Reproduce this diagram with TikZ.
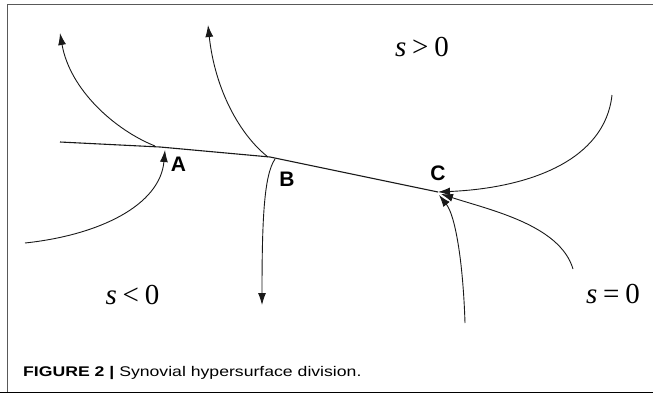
\documentclass[tikz,border=0pt]{standalone}
\usepackage{fontspec}
\setmainfont{Liberation Serif}
\newfontfamily\capfont{Liberation Sans}
\usetikzlibrary{arrows.meta}
\newcommand{\sgap}{\hspace{0.2em}}
\begin{document}
\begin{tikzpicture}[x=1pt,y=-1pt,
  traj/.style={line width=0.9pt,black!90},
  arr/.style={-{Latex[length=12pt,width=8pt]}},
  ptlabel/.style={font=\capfont\bfseries\fontsize{21}{21}\selectfont,inner sep=0pt},
  region/.style={font=\fontsize{29}{29}\selectfont,inner sep=0pt}]
\useasboundingbox (0,0) rectangle (653,394);
% frame
\draw[line width=1.2pt,black!65] (653,4.5) -- (7.5,4.5) -- (7.5,392.5);
\draw[line width=1.5pt,black] (0,392.5) -- (653,392.5);
% junction points
\coordinate (m0) at (60,142);
\coordinate (A) at (160,147);
\coordinate (B) at (270,157);
\coordinate (C) at (438,192);
% free ends
\coordinate (a1s) at (155,146);
\coordinate (t1) at (60,33);
\coordinate (b1s) at (268,157);
\coordinate (t2) at (208,25);
\coordinate (s3) at (25,243);
\coordinate (tA) at (165,150);
\coordinate (b2s) at (275,159);
\coordinate (t4) at (262,305);
\coordinate (s5) at (612,95);
\coordinate (s6) at (573,269);
\coordinate (s7) at (465,323);
\coordinate (tC5) at (438,192);
\coordinate (tC6) at (441,194);
\coordinate (tC7) at (439,195);
% main line (switching surface)
\draw[line width=1.1pt,black!90,line join=round] (m0) -- (A) -- (B) -- (C);
% trajectories
\draw[traj,arr] (a1s) .. controls (115,130) and (70,90) .. (t1);
\draw[traj,arr] (b1s) .. controls (240,135) and (215,90) .. (t2);
\draw[traj,arr] (s3) .. controls (100,235) and (160,205) .. (tA);
\draw[traj,arr] (b2s) .. controls (264,175) and (262,220) .. (t4);
\draw[traj,arr] (s5) .. controls (605,160) and (530,188) .. (tC5);
\draw[traj,arr] (s6) .. controls (560,225) and (490,210) .. (tC6);
\draw[traj,arr] (s7) .. controls (463,260) and (455,215) .. (tC7);
% labels
\node[ptlabel] (lA) at (178.5,164.5) {A};
\node[ptlabel] (lB) at (287,179) {B};
\node[ptlabel] (lC) at (438,173) {C};
\node[region] (rp) at (422,47) {\textit{s}\sgap>\sgap0};
\node[region] (rn) at (132.5,295) {\textit{s}\sgap<\sgap0};
\node[region] (rz) at (613,294) {\textit{s}\sgap=\sgap0};
\node[anchor=base west,inner sep=0pt,font=\capfont\fontsize{14}{15}\selectfont] (cap) at (23,376)
  {\scalebox{1.26}[1]{\textbf{FIGURE 2 |} Synovial hypersurface division.}};
\end{tikzpicture}
\end{document}
